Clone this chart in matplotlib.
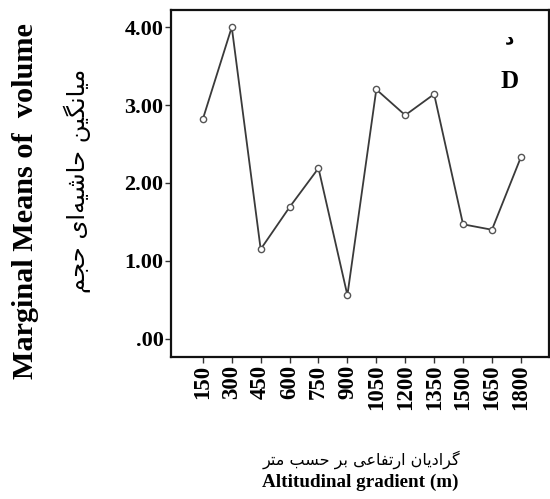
import matplotlib
matplotlib.use("Agg")
import matplotlib.pyplot as plt

# Estimated marginal means of volume along the altitudinal gradient
altitudes = ["150", "300", "450", "600", "750", "900", "1050", "1200",
             "1350", "1500", "1650", "1800"]
mean_volume = [2.82, 4.00, 1.15, 1.69, 2.19, 0.56, 3.20, 2.87,
               3.14, 1.47, 1.40, 2.33]
y_ticks = [0.0, 1.0, 2.0, 3.0, 4.0]
y_tick_labels = [".00", "1.00", "2.00", "3.00", "4.00"]

ylabel_en = "Marginal Means of  volume"
ylabel_fa = "میانگین حاشیه\u200cای حجم"
xlabel_fa = "گرادیان ارتفاعی بر حسب متر"
xlabel_en = "Altitudinal gradient (m)"
panel_fa = "د"
panel_en = "D"

# Contextual Arabic-script forms (isolated, final, initial, medial);
# right-joining letters have no initial/medial form.
FORMS = {
    "ا": ("\uFE8D", "\uFE8E", None, None),
    "ب": ("\uFE8F", "\uFE90", "\uFE91", "\uFE92"),
    "ت": ("\uFE95", "\uFE96", "\uFE97", "\uFE98"),
    "ج": ("\uFE9D", "\uFE9E", "\uFE9F", "\uFEA0"),
    "ح": ("\uFEA1", "\uFEA2", "\uFEA3", "\uFEA4"),
    "د": ("\uFEA9", "\uFEAA", None, None),
    "ر": ("\uFEAD", "\uFEAE", None, None),
    "س": ("\uFEB1", "\uFEB2", "\uFEB3", "\uFEB4"),
    "ش": ("\uFEB5", "\uFEB6", "\uFEB7", "\uFEB8"),
    "ع": ("\uFEC9", "\uFECA", "\uFECB", "\uFECC"),
    "ف": ("\uFED1", "\uFED2", "\uFED3", "\uFED4"),
    "م": ("\uFEE1", "\uFEE2", "\uFEE3", "\uFEE4"),
    "ن": ("\uFEE5", "\uFEE6", "\uFEE7", "\uFEE8"),
    "ه": ("\uFEE9", "\uFEEA", "\uFEEB", "\uFEEC"),
    "ی": ("\uFBFC", "\uFBFD", "\uFBFE", "\uFBFF"),
    "گ": ("\uFB92", "\uFB93", "\uFB94", "\uFB95"),
}


def shape_rtl(text):
    """Pick joined letter forms and return the string in visual order."""
    out = []
    n = len(text)
    for i, ch in enumerate(text):
        if ch not in FORMS:
            if ch != "\u200c":
                out.append(ch)
            continue
        iso, fin, ini, med = FORMS[ch]
        prev = text[i - 1] if i > 0 else None
        nxt = text[i + 1] if i < n - 1 else None
        join_prev = prev in FORMS and FORMS[prev][2] is not None
        join_next = nxt in FORMS and ini is not None
        if join_prev and join_next:
            out.append(med)
        elif join_prev:
            out.append(fin)
        elif join_next:
            out.append(ini)
        else:
            out.append(iso)
    return "".join(reversed(out))


serif = ["Liberation Serif", "DejaVu Serif"]
arabic = ["DejaVu Sans"]

fig = plt.figure(figsize=(5.5, 4.99), dpi=100)
ax = fig.add_axes([0.311, 0.285, 0.687, 0.695])

x = list(range(len(altitudes)))
ax.plot(x, mean_volume, color="#3a3a3a", linewidth=1.3,
        marker="o", markersize=4.5, markerfacecolor="white",
        markeredgecolor="#555555", markeredgewidth=1.0)

ax.set_xlim(-1.1, 11.97)
ax.set_ylim(-0.23, 4.22)

ax.set_xticks(x)
ax.set_xticklabels(altitudes, rotation=90, fontfamily=serif,
                   fontweight="bold", fontsize=16.5)
ax.set_yticks(y_ticks)
ax.set_yticklabels(y_tick_labels, fontfamily=serif, fontweight="bold",
                   fontsize=16)
ax.tick_params(axis="both", direction="out", length=4, width=1.0,
               color="#333333", pad=1.5)

for side in ("left", "bottom", "top", "right"):
    ax.spines[side].set_linewidth(1.6)
    ax.spines[side].set_color("#111111")

# Axis titles in English and Persian
fig.text(0.047, 0.597, ylabel_en, rotation=90, ha="center", va="center",
         fontfamily=serif, fontweight="bold", fontsize=21.8)
fig.text(0.14, 0.637, shape_rtl(ylabel_fa), rotation=90, ha="center",
         va="center", fontfamily=arabic, fontsize=17.5)
fig.text(0.657, 0.079, shape_rtl(xlabel_fa), ha="center", va="center",
         fontfamily=arabic, fontsize=11.5)
fig.text(0.655, 0.034, xlabel_en, ha="center", va="center",
         fontfamily=serif, fontweight="bold", fontsize=13.8)

# Panel letters
ax.text(0.897, 0.919, shape_rtl(panel_fa), transform=ax.transAxes,
        ha="center", va="center", fontfamily=arabic, fontsize=13,
        fontweight="bold")
ax.text(0.897, 0.795, panel_en, transform=ax.transAxes, ha="center",
        va="center", fontfamily=serif, fontweight="bold", fontsize=18)

fig.savefig("out.png", dpi=100)
